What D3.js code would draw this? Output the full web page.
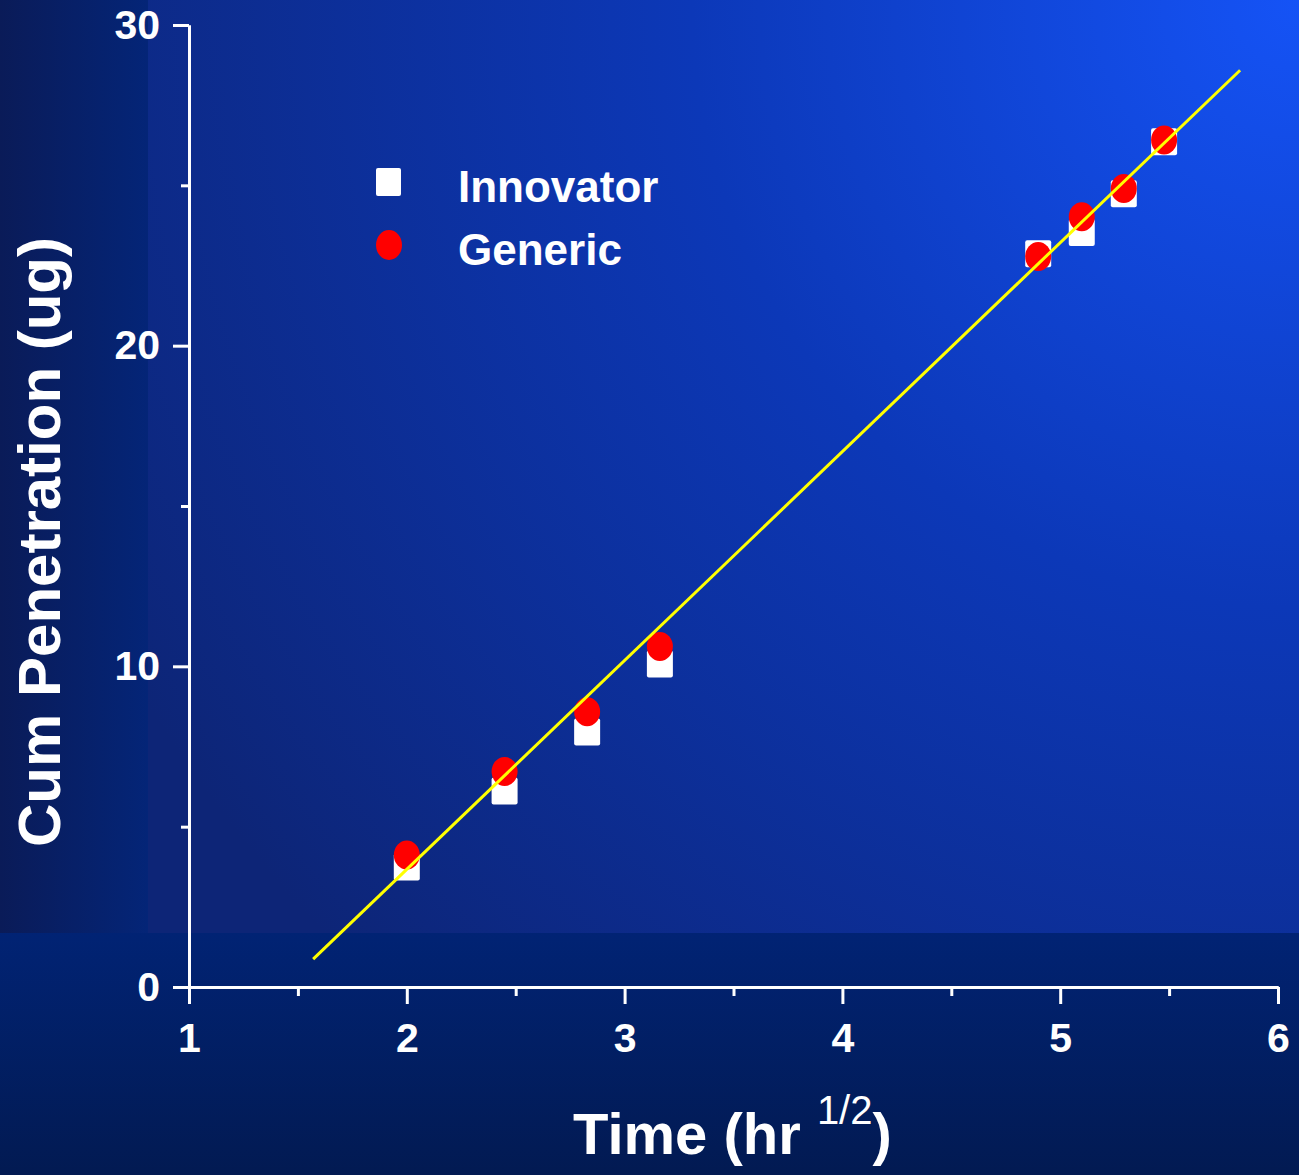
<!DOCTYPE html>
<html>
<head>
<meta charset="utf-8">
<script src="https://cdn.jsdelivr.net/npm/d3@7"></script>
<style>
  html, body { margin: 0; padding: 0; background: #05205f; }
  svg { display: block; font-family: "Liberation Sans", Arial, sans-serif; }
</style>
</head>
<body>
<div id="chart"></div>
<script>
// valeurs
var timeX = [2, 2.449, 2.828, 3.162, 4.899, 5.099, 5.292, 5.477];
var innovator = [3.74, 6.11, 7.95, 10.07, 22.87, 23.53, 24.74, 26.36];
var generic = [4.12, 6.72, 8.58, 10.62, 22.78, 24.02, 24.90, 26.41];
var fitX = [1.57, 5.826];
var fitY = [0.87, 28.59];
var xMajor = [1, 2, 3, 4, 5, 6];
var xMinor = [1.5, 2.5, 3.5, 4.5, 5.5];
var yMajor = [0, 10, 20, 30];
var yMinor = [5, 15, 25];

var W = 1299, H = 1175;

var svg = d3.select("#chart").append("svg")
    .attr("width", W)
    .attr("height", H);

var defs = svg.append("defs");
var rg = defs.append("radialGradient")
    .attr("id", "fond")
    .attr("gradientUnits", "userSpaceOnUse")
    .attr("cx", 1299).attr("cy", 0).attr("r", 1350);
rg.append("stop").attr("offset", 0).attr("stop-color", "#1553f6");
rg.append("stop").attr("offset", 0.45).attr("stop-color", "#0c38b8");
rg.append("stop").attr("offset", 1).attr("stop-color", "#0d2577");

var lg = defs.append("linearGradient")
    .attr("id", "bord")
    .attr("x1", 0).attr("x2", 1).attr("y1", 0).attr("y2", 0);
lg.append("stop").attr("offset", 0).attr("stop-color", "#0a1b58");
lg.append("stop").attr("offset", 1).attr("stop-color", "#042578");

var bg = defs.append("linearGradient")
    .attr("id", "bas")
    .attr("x1", 0).attr("x2", 0).attr("y1", 0).attr("y2", 1);
bg.append("stop").attr("offset", 0).attr("stop-color", "#012374");
bg.append("stop").attr("offset", 1).attr("stop-color", "#021a52");

// fond
svg.append("rect").attr("width", W).attr("height", H).attr("fill", "#03205f");
svg.append("rect").attr("width", 150).attr("height", 933).attr("fill", "url(#bord)");
svg.append("rect").attr("y", 933).attr("width", W).attr("height", H - 933).attr("fill", "url(#bas)");
svg.append("rect").attr("x", 148).attr("width", W - 148).attr("height", 933)
    .attr("fill", "url(#fond)");

var x = d3.scaleLinear().domain([1, 6]).range([189, 1278]);
var y = d3.scaleLinear().domain([0, 30]).range([987, 25]);

var g = svg.append("g");

/* axes */
var xAxisMin = g.append("g").attr("transform", "translate(0," + y(0) + ")")
    .call(d3.axisBottom(x).tickValues(xMinor).tickSize(9).tickSizeOuter(0).tickFormat(""));
var xAxis = g.append("g").attr("transform", "translate(0," + y(0) + ")")
    .call(d3.axisBottom(x).tickValues(xMajor).tickSize(17).tickSizeOuter(0).tickPadding(19)
        .tickFormat(d3.format("d")));
var yAxisMin = g.append("g").attr("transform", "translate(" + x(1) + ",0)")
    .call(d3.axisLeft(y).tickValues(yMinor).tickSize(8).tickSizeOuter(0).tickFormat(""));
var yAxis = g.append("g").attr("transform", "translate(" + x(1) + ",0)")
    .call(d3.axisLeft(y).tickValues(yMajor).tickSize(16).tickSizeOuter(0).tickPadding(13)
        .tickFormat(d3.format("d")));

[xAxisMin, xAxis, yAxisMin, yAxis].forEach(function(a) {
    a.selectAll("path, line").attr("stroke", "#ffffff").attr("stroke-width", 3);
    a.selectAll("text").attr("fill", "#ffffff")
        .attr("font-size", 41).attr("font-weight", "bold")
        .attr("font-family", "Liberation Sans, Arial, sans-serif");
});

/* droite de regression */
var fit = g.append("line")
    .attr("x1", x(fitX[0])).attr("y1", y(fitY[0]))
    .attr("x2", x(fitX[1])).attr("y2", y(fitY[1]))
    .attr("stroke", "#ffff00")
    .attr("stroke-width", 3);

/* points */
var pts = timeX.map(function(t, i) {
    return { t: t, inn: innovator[i], gen: generic[i] };
});

g.selectAll("rect.inn")
    .data(pts)
    .enter().append("rect")
    .attr("class", "inn")
    .attr("x", function(d) { return x(d.t) - 13; })
    .attr("y", function(d) { return y(d.inn) - 13.5; })
    .attr("width", 26).attr("height", 27)
    .attr("rx", 2)
    .attr("fill", "#ffffff");

g.selectAll("ellipse.gen")
    .data(pts)
    .enter().append("ellipse")
    .attr("class", "gen")
    .attr("cx", function(d) { return x(d.t); })
    .attr("cy", function(d) { return y(d.gen); })
    .attr("rx", 13).attr("ry", 14.5)
    .attr("fill", "#ff0000");

// la droite passe au dessus des points
fit.raise();

/* legende */
var leg = svg.append("g");
leg.append("rect").attr("x", 376).attr("y", 168).attr("width", 25).attr("height", 28)
    .attr("rx", 2).attr("fill", "#ffffff");
leg.append("ellipse").attr("cx", 389).attr("cy", 245).attr("rx", 13).attr("ry", 15)
    .attr("fill", "#ff0000");
leg.selectAll("text")
    .data([["Innovator", 202], ["Generic", 265]])
    .enter().append("text")
    .attr("x", 458).attr("y", function(d) { return d[1]; })
    .attr("fill", "#ffffff")
    .attr("font-size", 44).attr("font-weight", "bold")
    .text(function(d) { return d[0]; });

/* titres */
svg.append("text")
    .attr("transform", "translate(60,542) rotate(-90)")
    .attr("text-anchor", "middle")
    .attr("fill", "#ffffff")
    .attr("font-size", 60).attr("font-weight", "bold")
    .text("Cum Penetration (ug)");

var xt = svg.append("text")
    .attr("x", 573).attr("y", 1154)
    .attr("fill", "#ffffff")
    .attr("font-size", 58).attr("font-weight", "bold");
xt.append("tspan").text("Time (hr ");
xt.append("tspan").attr("dy", -30).attr("font-size", 40).attr("font-weight", "normal").text("1/2");
xt.append("tspan").attr("dy", 30).text(")");
</script>
</body>
</html>
